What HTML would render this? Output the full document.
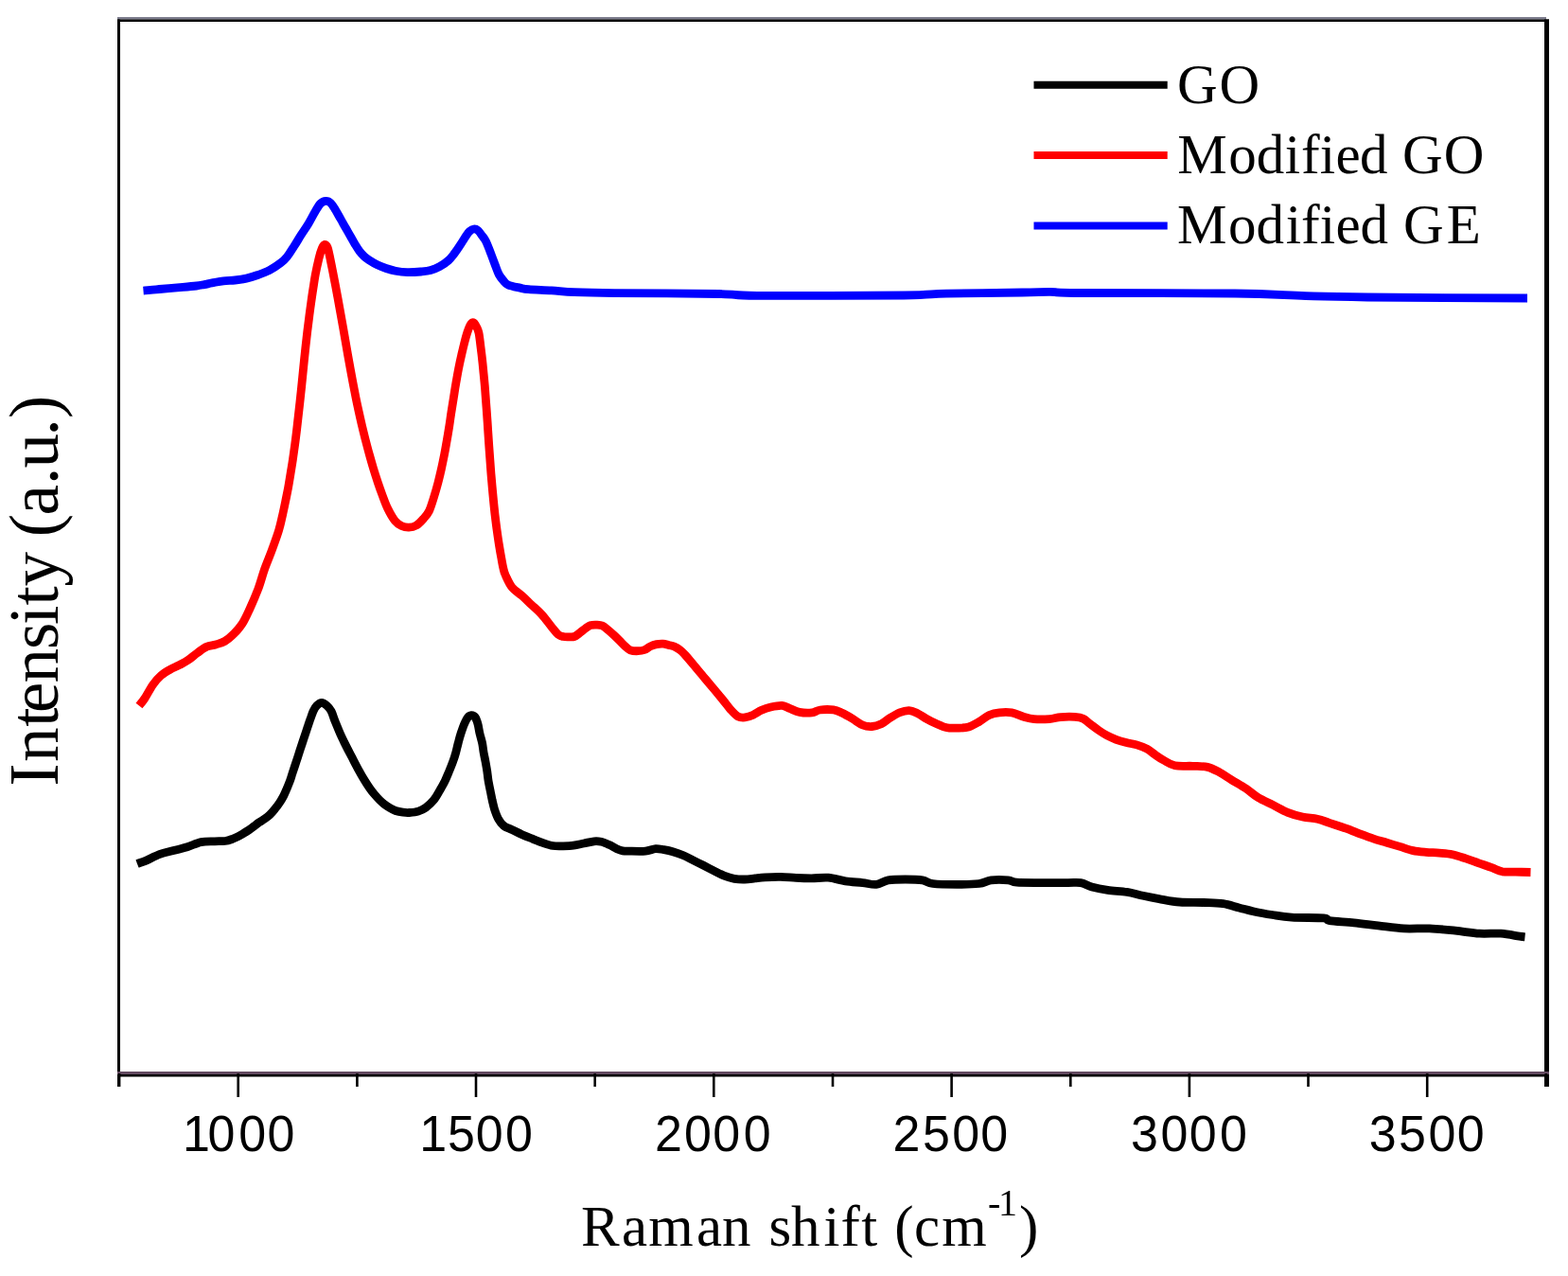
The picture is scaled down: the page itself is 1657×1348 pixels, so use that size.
<!DOCTYPE html>
<html><head><meta charset="utf-8"><title>Raman spectra</title>
<style>
html,body{margin:0;padding:0;background:#fff;}
body{width:1657px;height:1348px;overflow:hidden;}
svg{display:block;}
.tl{font-family:"Liberation Sans",Arial,sans-serif;font-size:52px;fill:#000;}
.serif{font-family:"Liberation Serif","Times New Roman",serif;fill:#000;font-variant-ligatures:none;}
</style></head>
<body>
<svg width="1657" height="1348" viewBox="0 0 1657 1348">
<rect width="1657" height="1348" fill="#fff"/>
<g fill="none" stroke-linejoin="round" stroke-linecap="butt" stroke-width="8.8">
<path stroke="#0000ff" d="M151.5,307.2C153.8,307.0 160.5,306.2 165.0,305.8C169.5,305.4 173.9,305.0 178.6,304.6C183.3,304.2 188.3,303.7 193.1,303.3C197.9,302.9 203.8,302.4 207.6,302.0C211.4,301.6 213.2,301.1 216.0,300.6C218.8,300.1 220.7,299.5 224.1,298.9C227.5,298.3 232.2,297.3 236.2,296.8C240.2,296.3 244.3,296.4 248.3,296.0C252.3,295.6 256.4,295.0 260.4,294.1C264.4,293.2 268.4,291.9 272.4,290.5C276.4,289.1 280.5,287.7 284.5,285.6C288.5,283.5 293.5,280.2 296.6,277.8C299.8,275.4 301.0,274.1 303.4,271.2C305.8,268.2 308.3,263.9 310.8,260.1C313.3,256.3 315.7,252.1 318.2,248.2C320.7,244.3 323.2,240.8 325.7,236.7C328.2,232.6 330.9,227.1 333.1,223.5C335.3,219.9 336.8,216.8 338.7,215.0C340.6,213.2 342.5,212.5 344.3,212.4C346.1,212.3 347.9,213.0 349.6,214.6C351.3,216.2 352.8,219.0 354.5,221.8C356.2,224.6 358.2,228.3 360.0,231.4C361.8,234.5 363.3,237.4 365.0,240.3C366.7,243.2 368.3,246.1 370.0,249.0C371.7,251.9 373.3,255.1 375.0,257.8C376.7,260.6 378.3,263.3 380.0,265.5C381.7,267.7 383.3,269.4 385.0,271.0C386.7,272.6 387.7,273.3 390.0,274.8C392.3,276.3 395.7,278.4 398.7,279.8C401.7,281.2 404.8,282.4 408.0,283.5C411.2,284.6 414.3,285.6 418.0,286.3C421.7,287.0 425.9,287.6 430.4,287.7C434.9,287.8 440.7,287.4 444.8,287.0C448.9,286.6 451.7,286.4 455.0,285.5C458.3,284.6 461.4,283.4 464.5,281.7C467.6,280.0 471.3,277.4 473.9,275.1C476.5,272.8 478.1,270.5 480.2,267.8C482.3,265.1 484.5,261.8 486.5,258.7C488.5,255.6 490.7,251.9 492.3,249.5C493.9,247.1 494.9,245.6 496.3,244.3C497.7,243.1 499.2,242.2 500.7,242.0C502.1,241.8 503.5,242.2 505.0,243.4C506.5,244.6 508.1,247.0 509.5,249.0C510.9,251.0 512.1,252.1 513.6,255.2C515.1,258.3 517.1,263.6 518.7,267.8C520.3,272.0 522.0,276.7 523.4,280.4C524.8,284.1 525.8,287.2 527.2,289.9C528.6,292.6 530.4,294.7 532.0,296.5C533.6,298.3 534.1,299.6 537.0,300.9C539.9,302.2 546.0,303.3 549.6,304.1C553.2,304.9 553.1,305.2 558.6,305.7C564.1,306.2 574.8,306.4 582.8,306.9C590.8,307.4 595.8,308.2 606.9,308.7C618.0,309.1 623.7,309.3 649.2,309.6C674.7,309.9 734.9,310.0 760.0,310.5C785.1,311.0 767.5,312.1 800.0,312.4C832.5,312.6 921.7,312.4 955.0,312.0C988.3,311.6 979.2,310.7 1000.0,310.2C1020.8,309.7 1061.7,309.3 1080.0,309.0C1098.3,308.7 1100.0,308.2 1110.0,308.3C1120.0,308.4 1107.5,309.2 1140.0,309.5C1172.5,309.8 1265.0,309.5 1305.0,310.0C1345.0,310.5 1356.7,312.0 1380.0,312.7C1403.3,313.4 1406.0,313.6 1445.0,314.0C1484.0,314.4 1585.8,314.8 1614.0,315.0"/>
<path stroke="#ff0000" d="M147.0,745.5C148.0,744.2 150.4,741.7 152.8,738.0C155.2,734.3 158.8,727.3 161.7,723.2C164.6,719.1 167.3,716.1 170.3,713.5C173.3,710.9 176.5,709.1 179.7,707.3C182.9,705.5 186.1,704.4 189.3,702.7C192.5,701.0 195.8,699.4 199.0,697.2C202.2,695.0 205.4,692.0 208.6,689.7C211.8,687.4 215.1,684.7 218.3,683.2C221.5,681.8 224.7,682.0 227.9,681.0C231.1,680.0 234.4,679.3 237.6,677.4C240.8,675.5 244.2,672.5 247.3,669.4C250.4,666.3 253.4,663.1 256.2,658.7C259.0,654.3 261.2,649.2 264.0,643.1C266.8,637.0 270.2,629.2 272.8,622.3C275.4,615.4 277.1,608.4 279.5,601.5C281.9,594.6 285.0,587.7 287.5,580.8C290.0,573.9 292.9,566.0 294.7,560.0C296.5,554.0 297.2,550.0 298.4,545.0C299.5,540.0 300.6,535.0 301.6,530.0C302.6,525.0 303.7,520.0 304.6,515.0C305.5,510.0 306.3,505.0 307.1,500.0C307.9,495.0 308.8,490.0 309.5,485.0C310.2,480.0 310.9,475.0 311.6,470.0C312.3,465.0 312.9,460.0 313.5,455.0C314.1,450.0 314.6,445.0 315.2,440.0C315.8,435.0 316.3,430.0 316.9,425.0C317.4,420.0 318.0,415.0 318.5,410.0C319.0,405.0 319.5,400.0 320.0,395.0C320.5,390.0 321.0,385.0 321.5,380.0C322.0,375.0 322.6,370.0 323.1,365.0C323.7,360.0 324.2,355.0 324.8,350.0C325.4,345.0 326.1,340.0 326.7,335.0C327.3,330.0 328.0,325.0 328.7,320.0C329.4,315.0 330.1,310.0 330.9,305.0C331.7,300.0 332.3,295.3 333.3,290.0C334.3,284.7 335.9,277.6 337.0,273.0C338.1,268.4 339.2,264.9 340.2,262.5C341.2,260.1 342.2,258.6 343.2,258.4C344.2,258.2 345.3,259.5 346.2,261.5C347.1,263.5 347.5,266.7 348.4,270.6C349.2,274.5 350.3,280.1 351.3,285.0C352.3,289.9 353.2,295.0 354.2,300.0C355.1,305.0 356.1,310.0 357.0,315.0C357.9,320.0 358.8,325.0 359.7,330.0C360.6,335.0 361.5,340.0 362.4,345.0C363.3,350.0 364.1,355.0 365.0,360.0C365.9,365.0 366.7,370.0 367.6,375.0C368.5,380.0 369.4,385.0 370.3,390.0C371.2,395.0 372.2,400.0 373.1,405.0C374.1,410.0 375.0,415.0 376.0,420.0C377.0,425.0 378.1,430.0 379.2,435.0C380.3,440.0 381.4,445.0 382.6,450.0C383.8,455.0 385.0,460.0 386.3,465.0C387.6,470.0 388.9,475.0 390.3,480.0C391.7,485.0 393.1,490.0 394.6,495.0C396.1,500.0 397.8,505.2 399.4,510.0C401.0,514.8 402.5,519.0 404.2,523.5C405.9,528.0 407.4,532.5 409.6,537.0C411.8,541.5 414.9,547.1 417.4,550.2C419.9,553.3 422.1,554.4 424.5,555.6C426.9,556.8 429.5,557.3 432.1,557.2C434.7,557.1 437.4,556.5 440.0,555.0C442.6,553.5 445.3,550.5 447.5,548.0C449.7,545.5 451.5,543.8 453.4,540.0C455.2,536.2 457.0,530.0 458.6,525.0C460.2,520.0 461.6,515.0 462.9,510.0C464.2,505.0 465.4,500.0 466.5,495.0C467.6,490.0 468.6,485.0 469.6,480.0C470.6,475.0 471.4,470.0 472.3,465.0C473.2,460.0 474.0,455.0 474.8,450.0C475.6,445.0 476.2,440.0 477.0,435.0C477.8,430.0 478.6,425.0 479.4,420.0C480.2,415.0 480.9,410.0 481.8,405.0C482.7,400.0 483.5,395.0 484.5,390.0C485.5,385.0 486.6,379.7 487.7,375.0C488.8,370.3 489.8,366.0 490.8,362.0C491.8,358.0 492.9,354.0 493.9,351.0C494.9,348.0 495.7,345.7 496.6,344.0C497.5,342.3 498.4,340.9 499.3,340.7C500.2,340.5 501.1,341.1 502.2,342.8C503.3,344.5 504.9,347.3 505.8,351.0C506.7,354.7 507.2,360.2 507.8,365.0C508.4,369.8 509.1,375.0 509.6,380.0C510.2,385.0 510.6,390.0 511.1,395.0C511.6,400.0 512.1,405.0 512.5,410.0C512.9,415.0 513.2,420.0 513.6,425.0C514.0,430.0 514.4,435.0 514.7,440.0C515.1,445.0 515.4,450.0 515.7,455.0C516.0,460.0 516.4,465.0 516.7,470.0C517.1,475.0 517.4,480.0 517.8,485.0C518.2,490.0 518.5,495.0 518.9,500.0C519.3,505.0 519.8,510.0 520.2,515.0C520.7,520.0 521.1,525.0 521.6,530.0C522.1,535.0 522.6,540.0 523.2,545.0C523.8,550.0 524.4,555.0 525.1,560.0C525.8,565.0 526.5,570.0 527.3,575.0C528.1,580.0 529.1,585.8 529.9,590.0C530.6,594.2 531.1,597.1 531.8,600.0C532.5,602.9 532.5,604.1 534.1,607.5C535.7,610.9 538.2,616.9 541.1,620.5C544.0,624.1 548.0,626.2 551.5,629.3C555.0,632.4 558.4,635.8 561.9,639.1C565.4,642.4 568.8,645.2 572.3,649.0C575.8,652.8 579.8,658.4 582.7,662.0C585.7,665.6 587.9,668.6 590.0,670.4C592.1,672.1 593.3,672.1 595.1,672.5C596.9,672.9 599.0,672.8 601.0,672.8C603.0,672.8 605.1,673.1 606.9,672.5C608.7,671.9 610.2,670.4 612.0,669.1C613.8,667.8 615.9,665.9 617.9,664.5C619.9,663.1 621.7,661.4 623.8,660.7C625.9,660.0 628.5,660.0 630.6,660.1C632.7,660.2 634.5,660.2 636.5,661.1C638.5,662.0 640.3,663.6 642.4,665.3C644.5,667.0 647.0,669.3 649.1,671.3C651.2,673.3 653.3,675.4 655.1,677.2C656.9,679.0 658.3,680.6 660.1,682.2C661.9,683.8 663.6,685.9 666.0,686.8C668.4,687.7 672.0,687.8 674.5,687.7C677.0,687.7 679.1,687.3 681.2,686.5C683.3,685.7 685.1,683.9 687.2,682.9C689.3,681.9 691.6,681.1 693.9,680.6C696.1,680.1 698.6,680.0 700.7,680.1C702.8,680.2 704.6,680.9 706.6,681.4C708.6,681.9 710.5,682.2 712.5,683.1C714.5,684.0 716.5,685.1 718.4,686.5C720.3,687.9 721.7,689.4 723.8,691.6C725.9,693.8 727.9,696.3 730.9,699.8C733.9,703.3 738.1,708.5 741.7,712.8C745.3,717.1 749.0,721.4 752.6,725.8C756.2,730.1 760.2,734.9 763.5,738.9C766.8,742.9 769.4,746.7 772.1,749.7C774.8,752.7 777.2,755.4 779.7,756.8C782.2,758.2 784.6,758.2 787.3,757.9C790.0,757.6 793.1,756.5 796.0,755.2C798.9,753.9 801.6,751.7 804.7,750.3C807.8,748.9 810.9,747.8 814.5,747.0C818.1,746.2 823.1,745.1 826.5,745.4C829.9,745.7 832.0,747.6 835.1,748.7C838.2,749.9 841.1,751.6 844.9,752.3C848.7,753.0 854.4,753.2 858.0,752.8C861.6,752.4 862.8,750.5 866.6,750.0C870.4,749.5 877.0,749.4 880.8,749.9C884.6,750.4 886.1,751.4 889.5,753.0C892.9,754.6 897.2,757.1 900.9,759.3C904.6,761.5 908.3,764.6 911.7,766.0C915.1,767.4 918.2,767.7 921.5,767.5C924.8,767.3 928.2,766.2 931.3,764.8C934.4,763.3 936.8,760.8 940.0,758.8C943.2,756.8 947.4,754.2 950.8,752.8C954.2,751.4 957.5,750.5 960.6,750.6C963.7,750.7 966.2,752.0 969.3,753.4C972.4,754.8 975.7,757.4 979.1,759.3C982.5,761.2 986.3,763.2 989.9,764.8C993.5,766.4 997.2,768.1 1000.8,768.8C1004.4,769.5 1007.9,769.2 1011.7,769.1C1015.5,769.0 1019.8,769.1 1023.6,768.0C1027.4,766.9 1030.9,764.7 1034.5,762.6C1038.1,760.5 1041.7,757.1 1045.3,755.5C1048.9,753.9 1052.2,753.2 1056.2,752.8C1060.2,752.4 1065.0,752.2 1069.2,752.9C1073.5,753.6 1077.8,756.1 1081.7,757.2C1085.6,758.3 1088.1,759.2 1092.6,759.6C1097.1,760.0 1104.2,759.9 1108.9,759.6C1113.6,759.3 1116.3,758.0 1120.8,757.6C1125.3,757.2 1132.0,757.1 1136.0,757.4C1140.0,757.7 1142.0,757.9 1144.7,759.2C1147.4,760.5 1149.6,763.0 1152.3,765.0C1155.0,767.0 1158.1,769.5 1161.0,771.5C1163.9,773.5 1166.6,775.3 1169.7,776.9C1172.8,778.5 1176.1,780.0 1179.5,781.3C1182.9,782.6 1186.7,783.6 1190.3,784.5C1193.9,785.4 1197.6,785.8 1201.2,786.9C1204.8,788.0 1208.8,789.4 1212.1,791.1C1215.4,792.9 1217.9,795.4 1220.8,797.4C1223.7,799.4 1226.0,801.1 1229.5,803.0C1233.0,804.9 1236.4,807.8 1241.6,808.8C1246.8,809.8 1254.7,809.0 1260.4,809.3C1266.2,809.6 1271.4,809.3 1276.1,810.4C1280.8,811.5 1284.5,813.7 1288.7,815.9C1292.9,818.1 1296.5,820.8 1301.2,823.7C1305.9,826.6 1312.2,830.1 1316.9,833.2C1321.6,836.4 1324.8,839.7 1329.5,842.6C1334.2,845.5 1340.0,847.8 1345.2,850.4C1350.4,853.0 1355.6,856.2 1360.8,858.3C1366.0,860.4 1371.3,861.8 1376.5,863.0C1381.7,864.2 1387.5,864.2 1392.2,865.3C1396.9,866.3 1400.3,867.8 1404.8,869.3C1409.2,870.8 1415.7,872.9 1418.9,874.0C1422.1,875.1 1420.8,874.5 1423.9,875.7C1427.1,876.9 1433.2,879.5 1437.8,881.2C1442.4,882.9 1447.0,884.6 1451.6,886.1C1456.2,887.6 1460.9,888.9 1465.5,890.3C1470.1,891.7 1474.8,893.0 1479.4,894.4C1484.0,895.8 1488.7,897.6 1493.3,898.6C1497.9,899.6 1502.6,899.9 1507.2,900.3C1511.8,900.7 1516.4,900.7 1521.0,901.1C1525.6,901.5 1530.3,901.7 1534.9,902.7C1539.5,903.7 1544.2,905.4 1548.8,906.9C1553.4,908.4 1558.1,910.2 1562.7,911.8C1567.3,913.4 1572.4,915.1 1576.6,916.6C1580.8,918.1 1583.5,920.0 1587.7,920.8C1591.9,921.5 1596.6,921.0 1601.6,921.1C1606.6,921.2 1614.8,921.4 1617.5,921.5"/>
<path stroke="#000000" d="M145.0,912.5C146.6,911.9 150.5,910.8 154.5,909.1C158.5,907.4 164.2,904.1 169.0,902.4C173.8,900.6 178.6,899.9 183.4,898.6C188.2,897.3 193.1,896.3 197.9,894.8C202.7,893.3 207.6,890.6 212.4,889.6C217.2,888.6 222.7,889.0 226.9,888.8C231.1,888.6 234.6,888.9 237.8,888.5C241.0,888.1 243.8,887.0 246.1,886.2C248.4,885.4 249.8,884.7 251.7,883.7C253.6,882.7 255.5,881.5 257.3,880.4C259.2,879.3 261.0,878.2 262.8,877.0C264.6,875.8 266.5,874.3 268.4,872.9C270.3,871.5 272.1,870.0 274.0,868.7C275.9,867.4 277.6,866.5 279.5,865.2C281.4,863.9 283.2,862.6 285.1,860.8C287.0,859.0 288.8,856.8 290.6,854.5C292.5,852.2 294.7,849.1 296.2,846.8C297.7,844.5 298.6,842.9 299.8,840.6C301.0,838.3 302.1,835.6 303.2,833.0C304.3,830.4 305.5,827.5 306.5,824.8C307.5,822.1 308.2,819.3 309.1,816.6C310.0,813.9 310.9,811.2 311.8,808.5C312.7,805.8 313.6,803.0 314.5,800.3C315.4,797.6 316.2,794.8 317.1,792.1C318.0,789.4 318.9,786.7 319.8,784.0C320.7,781.3 321.6,778.5 322.5,775.8C323.4,773.1 324.3,770.4 325.2,767.7C326.1,765.0 327.0,762.2 328.0,759.5C329.0,756.8 329.9,753.7 331.0,751.3C332.1,748.9 333.3,746.8 334.8,745.3C336.3,743.8 338.3,742.3 340.0,742.3C341.7,742.3 343.5,743.8 345.2,745.3C346.9,746.8 348.8,748.9 350.1,751.3C351.4,753.7 352.1,756.8 353.1,759.5C354.2,762.2 355.3,765.0 356.4,767.7C357.5,770.4 358.6,773.1 359.8,775.8C361.0,778.5 362.4,781.3 363.7,784.0C365.0,786.7 366.4,789.4 367.8,792.1C369.2,794.8 370.7,797.6 372.1,800.3C373.5,803.0 374.9,805.8 376.3,808.5C377.7,811.2 379.1,813.9 380.7,816.6C382.2,819.3 383.9,822.1 385.6,824.8C387.3,827.5 389.2,830.5 390.9,833.0C392.6,835.5 394.3,837.5 396.0,839.5C397.7,841.5 399.3,843.3 401.0,845.0C402.7,846.7 404.2,848.1 406.0,849.5C407.8,850.9 410.0,852.3 412.0,853.5C414.0,854.7 415.7,855.7 418.0,856.5C420.3,857.3 423.5,857.9 425.9,858.2C428.3,858.5 429.7,858.7 432.4,858.5C435.1,858.3 439.1,858.0 442.0,857.1C444.9,856.2 447.2,855.1 450.0,853.1C452.8,851.1 456.1,848.1 458.5,845.1C460.9,842.1 462.8,838.4 464.7,835.1C466.6,831.8 468.6,828.4 470.2,825.1C471.8,821.8 473.1,818.4 474.5,815.1C475.9,811.8 477.3,808.4 478.5,805.1C479.7,801.8 480.8,798.5 481.7,795.1C482.6,791.8 483.3,788.4 484.2,785.0C485.1,781.6 485.9,778.3 487.0,775.0C488.1,771.7 489.4,767.8 490.6,765.0C491.8,762.2 492.8,759.9 494.0,758.3C495.2,756.7 496.7,755.7 498.0,755.6C499.3,755.5 500.8,755.9 502.0,757.5C503.2,759.1 504.2,762.1 505.0,765.0C505.8,767.9 506.2,771.7 507.0,775.0C507.8,778.3 508.9,781.7 509.6,785.0C510.3,788.3 510.5,791.7 511.1,795.0C511.7,798.3 512.5,801.7 513.1,805.0C513.7,808.3 514.3,811.7 514.8,815.0C515.3,818.3 515.5,821.6 516.1,825.0C516.7,828.4 517.4,831.8 518.1,835.1C518.8,838.5 519.4,841.8 520.1,845.1C520.9,848.4 521.5,851.8 522.6,855.1C523.7,858.4 525.0,862.2 526.6,865.1C528.2,868.0 530.1,870.6 532.5,872.5C534.9,874.4 537.7,875.0 540.9,876.5C544.1,878.0 548.1,880.1 551.7,881.7C555.3,883.3 559.0,884.7 562.6,886.1C566.2,887.5 569.9,889.2 573.5,890.4C577.1,891.6 580.7,892.9 584.3,893.5C587.9,894.1 591.6,893.9 595.2,893.8C598.8,893.7 602.4,893.6 606.0,893.1C609.6,892.6 613.3,891.7 616.9,891.0C620.5,890.3 624.7,889.1 627.8,888.8C630.9,888.5 632.7,888.7 635.4,889.3C638.1,889.9 641.4,891.4 644.1,892.6C646.8,893.8 649.4,895.7 651.7,896.7C654.0,897.7 655.6,898.4 658.0,898.8C660.4,899.2 661.8,899.0 665.8,899.1C669.8,899.2 677.6,899.5 682.1,899.1C686.6,898.7 689.6,896.8 692.9,896.6C696.1,896.4 698.6,897.2 701.6,897.7C704.6,898.2 707.5,898.7 710.9,899.7C714.2,900.7 718.1,902.0 721.7,903.5C725.3,905.0 729.0,907.1 732.6,908.9C736.2,910.7 739.9,912.5 743.5,914.3C747.1,916.1 750.7,918.0 754.3,919.8C757.9,921.6 761.6,923.8 765.2,925.2C768.8,926.6 772.4,927.7 776.0,928.3C779.6,928.9 783.3,929.1 786.9,929.0C790.5,928.9 794.2,928.3 797.8,927.9C801.4,927.5 804.1,927.1 808.6,926.8C813.1,926.5 819.5,926.2 824.9,926.3C830.3,926.4 835.8,927.1 841.2,927.4C846.6,927.7 851.8,927.9 857.5,927.9C863.2,927.9 869.3,926.7 875.3,927.2C881.3,927.7 887.4,929.9 893.4,930.8C899.4,931.7 906.1,932.0 911.5,932.6C916.9,933.2 921.5,934.9 926.0,934.4C930.5,933.9 933.5,930.8 938.6,929.9C943.7,929.0 950.7,929.0 956.7,929.0C962.8,929.0 970.1,929.1 974.9,929.9C979.7,930.6 979.7,932.8 985.7,933.5C991.7,934.2 1003.0,934.4 1011.1,934.4C1019.2,934.4 1028.6,934.2 1034.6,933.5C1040.6,932.8 1042.2,930.5 1047.3,929.9C1052.4,929.3 1060.9,929.5 1065.4,929.9C1069.9,930.3 1068.4,931.8 1074.4,932.2C1080.4,932.7 1092.5,932.5 1101.6,932.6C1110.7,932.7 1122.1,932.6 1128.8,932.6C1135.5,932.6 1137.8,932.0 1142.0,932.7C1146.2,933.4 1149.0,935.7 1153.8,937.0C1158.6,938.3 1164.5,939.4 1170.7,940.3C1176.9,941.2 1184.8,941.4 1191.0,942.4C1197.2,943.4 1202.3,945.1 1207.9,946.3C1213.5,947.5 1218.3,948.5 1224.8,949.6C1231.3,950.7 1238.8,952.4 1246.7,953.0C1254.6,953.6 1264.5,953.2 1272.1,953.5C1279.7,953.8 1286.2,953.8 1292.4,954.7C1298.6,955.6 1303.7,957.5 1309.3,958.9C1314.9,960.3 1320.3,961.9 1326.2,963.2C1332.1,964.5 1338.2,965.5 1344.7,966.5C1351.2,967.5 1356.0,968.5 1365.0,969.1C1374.0,969.7 1392.1,969.3 1398.8,969.9C1405.5,970.5 1399.8,971.8 1405.1,972.6C1410.4,973.4 1422.2,974.0 1430.7,974.9C1439.2,975.8 1447.6,976.9 1456.4,977.9C1465.2,978.9 1474.5,980.4 1483.5,980.9C1492.5,981.4 1501.6,980.5 1510.7,980.9C1519.8,981.3 1529.1,982.3 1537.9,983.2C1546.7,984.1 1555.5,985.7 1563.5,986.2C1571.5,986.7 1579.0,985.7 1586.1,986.2C1593.1,986.7 1601.6,988.6 1605.8,989.2C1610.0,989.8 1610.5,989.7 1611.5,989.8"/>
</g>
<line x1="124" y1="19.3" x2="1634" y2="19.3" stroke="#7c7c8c" stroke-width="2.7"/>
<line x1="124" y1="21.8" x2="1637" y2="21.8" stroke="#000" stroke-width="2.4"/>
<line x1="125.5" y1="20.6" x2="125.5" y2="1148" stroke="#000" stroke-width="3"/>
<line x1="1634.5" y1="20.6" x2="1634.5" y2="1148" stroke="#000" stroke-width="5"/>
<line x1="124" y1="1133.5" x2="1637" y2="1133.5" stroke="#634a60" stroke-width="3"/>
<line x1="124" y1="1136.2" x2="1637" y2="1136.2" stroke="#000" stroke-width="2.4"/>
<g stroke="#000" stroke-width="2.6"><line x1="126.1" y1="1134" x2="126.1" y2="1148"/><line x1="251.7" y1="1134" x2="251.7" y2="1159"/><line x1="377.4" y1="1134" x2="377.4" y2="1148"/><line x1="503.0" y1="1134" x2="503.0" y2="1159"/><line x1="628.7" y1="1134" x2="628.7" y2="1148"/><line x1="754.3" y1="1134" x2="754.3" y2="1159"/><line x1="880.0" y1="1134" x2="880.0" y2="1148"/><line x1="1005.6" y1="1134" x2="1005.6" y2="1159"/><line x1="1131.3" y1="1134" x2="1131.3" y2="1148"/><line x1="1256.9" y1="1134" x2="1256.9" y2="1159"/><line x1="1382.5" y1="1134" x2="1382.5" y2="1148"/><line x1="1508.2" y1="1134" x2="1508.2" y2="1159"/><line x1="1633.8" y1="1134" x2="1633.8" y2="1148"/></g>
<g class="tl" transform="translate(0,1215.9) scale(1,1.047)"><text x="192.9 219.6 252.2 282.4" y="0">1000</text><text x="443.3 472.9 502.7 534.1" y="0">1500</text><text x="691.9 723.1 753.3 785.7" y="0">2000</text><text x="943.6 975.0 1006.2 1036.2" y="0">2500</text><text x="1195.1 1226.6 1256.8 1289.1" y="0">3000</text><text x="1446.8 1478.1 1509.5 1539.7" y="0">3500</text></g>
<text class="serif" font-size="61" x="613.9 657.1 685.2 735.9 762.9 792.9 812.4 836.0 870.6 888.5 910.2 940.2 945.2 965.9 995.2" y="1316.4">Raman shift (cm<tspan font-size="40" x="1044.1 1055.1" y="1283.5">-1</tspan><tspan x="1077.1" y="1316.4">)</tspan></text>
<text class="serif" font-size="73" transform="translate(61,829) rotate(-90)" x="-1.8 24.1 61.3 75.9 107.5 143.0 169.0 189.5 209.6 234.6 261.8 284.4 317.1 334.5 368.6 386.9" y="0">Intensity (a.u.)</text>
<line x1="1092.5" y1="89.8" x2="1233.7" y2="89.8" stroke="#000" stroke-width="8"/>
<line x1="1092.5" y1="164" x2="1233.7" y2="164" stroke="#f00" stroke-width="8"/>
<line x1="1092.5" y1="238.4" x2="1233.7" y2="238.4" stroke="#00f" stroke-width="8"/>
<text class="serif" font-size="59" x="1244.0 1288.4" y="109">GO</text>
<text class="serif" font-size="59" x="1244.2 1298.3 1327.7 1357.8 1374.9 1394.7 1411.6 1436.9 1456.9 1482.1 1525.8" y="183.2">Modified GO</text>
<text class="serif" font-size="59" x="1244.0 1298.1 1327.6 1358.7 1374.9 1394.7 1411.5 1437.4 1457.4 1483.1 1528.8" y="256.5">Modified GE</text>
</svg>
</body></html>
